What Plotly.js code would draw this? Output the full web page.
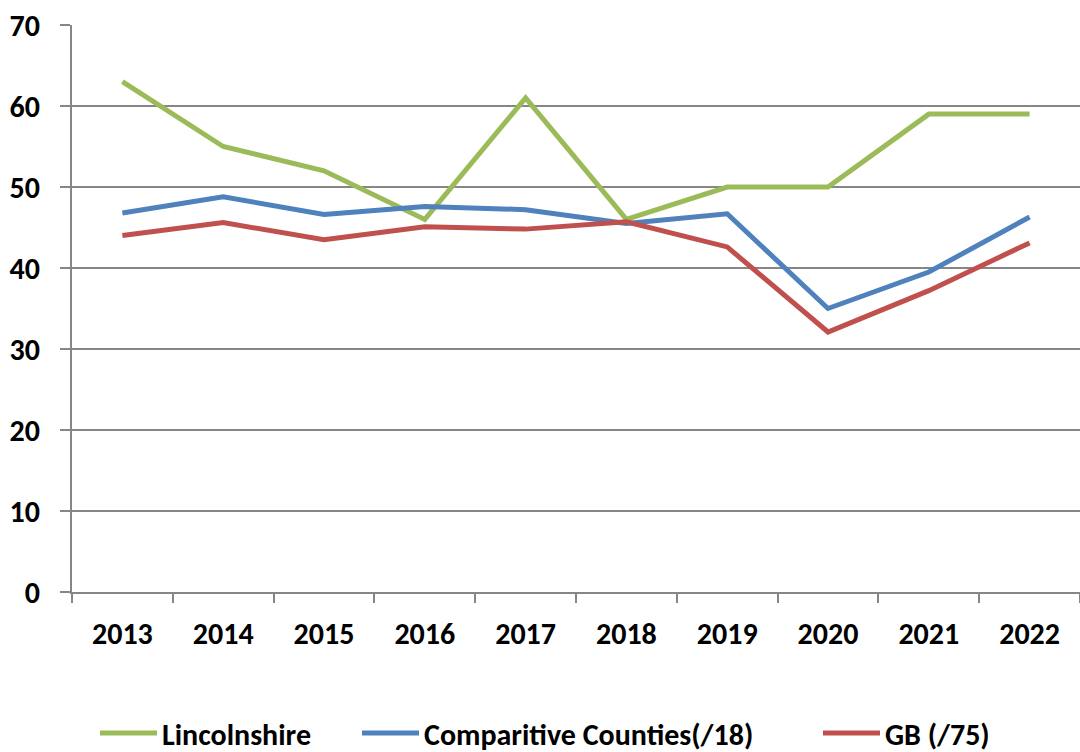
<!DOCTYPE html>
<html>
<head>
<meta charset="utf-8">
<script src="https://cdn.plot.ly/plotly-3.0.1.min.js"></script>
<style>html,body{margin:0;padding:0;background:#fff;}#chart{width:1080px;height:752px;}</style>
</head>
<body>
<div id="chart"></div>
<script>
const years = ["2013","2014","2015","2016","2017","2018","2019","2020","2021","2022"];
const lincolnshire = [63, 55, 52, 46, 61, 46, 50, 50, 59, 59];
const comparitive = [46.8, 48.8, 46.6, 47.6, 47.2, 45.5, 46.7, 35.0, 39.5, 46.3];
const gb = [44.0, 45.6, 43.5, 45.1, 44.8, 45.7, 42.6, 32.1, 37.2, 43.1];
const yTicks = [0, 10, 20, 30, 40, 50, 60, 70];

const font = "Carlito, 'Liberation Sans Narrow', 'Liberation Sans', Arial, sans-serif";
const mk = (name, y, color, leg) => ({
  x: years, y: y, name: name, type: "scatter", mode: "lines",
  line: {color: color, width: 5}, legend: leg
});
const data = [
  mk("Lincolnshire", lincolnshire, "#9BBB59", "legend"),
  mk("Comparitive Counties(/18)", comparitive, "#4F81BD", "legend2"),
  mk("GB (/75)", gb, "#C0504D", "legend3")
];
const legBase = (xpx) => ({
  orientation: "h", x: xpx / 1080, xanchor: "left", xref: "container",
  y: 1 - 733 / 752, yanchor: "middle", yref: "container",
  font: {family: font, size: 30, color: "#000", weight: "bold"}, itemwidth: 57,
  bgcolor: "rgba(0,0,0,0)"
});
const layout = {
  width: 1080, height: 752,
  margin: {l: 72, r: 0, t: 25, b: 160, autoexpand: false},
  paper_bgcolor: "#fff", plot_bgcolor: "#fff",
  font: {family: font, size: 30, color: "#000"},
  showlegend: true,
  legend: legBase(95),
  legend2: legBase(357),
  legend3: legBase(818),
  xaxis: {
    type: "category", showgrid: false, showline: true, linecolor: "#868686", linewidth: 2,
    ticks: "outside", tickson: "boundaries", ticklen: 9, tickcolor: "#868686", tickwidth: 2,
    tickfont: {family: font, size: 30, weight: "bold", color: "#000"},
    ticklabelstandoff: 14, automargin: false,
    range: [-0.5, 9.5], fixedrange: true
  },
  yaxis: {
    range: [0, 70], tickvals: yTicks, showgrid: true, gridcolor: "#868686", gridwidth: 2,
    showline: true, linecolor: "#868686", linewidth: 2, zeroline: false,
    ticks: "outside", ticklen: 10, tickcolor: "#868686", tickwidth: 2,
    tickfont: {family: font, size: 30, weight: "bold", color: "#000"},
    ticklabelstandoff: 14, automargin: false
  }
};
Plotly.newPlot("chart", data, layout, {staticPlot: true});
</script>
</body>
</html>
